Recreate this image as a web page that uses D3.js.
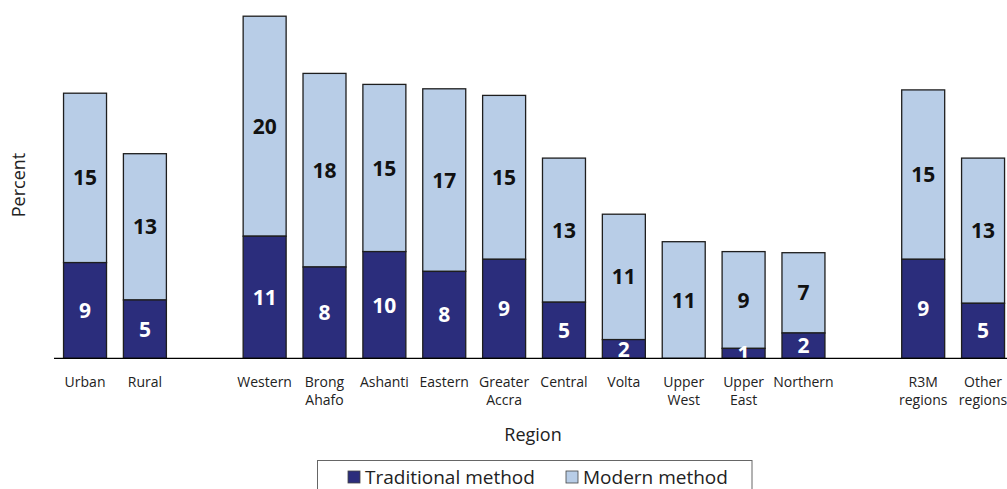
<!DOCTYPE html>
<html>
<head>
<meta charset="utf-8">
<script src="https://cdn.jsdelivr.net/npm/d3@7"></script>
<style>
  html, body { margin: 0; padding: 0; background: #fff; }
  svg { display: block; }
  text { font-family: "Open Sans", "Noto Sans", "DejaVu Sans", sans-serif; }
</style>
</head>
<body>
<svg id="chart" width="1007" height="489"></svg>
<script>
// ---- data ----
const categories = ["Urban", "Rural", "Western", "Brong\nAhafo", "Ashanti", "Eastern", "Greater\nAccra",
  "Central", "Volta", "Upper\nWest", "Upper\nEast", "Northern", "R3M\nregions", "Other\nregions"];
const traditional = [8.7, 5.3, 11.1, 8.3, 9.7, 7.9, 9.0, 5.1, 1.7, 0.0, 0.9, 2.3, 9.0, 5.0];
const modern      = [15.4, 13.3, 20.0, 17.6, 15.2, 16.6, 14.9, 13.1, 11.4, 10.6, 8.8, 7.3, 15.4, 13.2];
const traditionalLabels = ["9", "5", "11", "8", "10", "8", "9", "5", "2", "", "1", "2", "9", "5"];
const modernLabels      = ["15", "13", "20", "18", "15", "17", "15", "13", "11", "11", "9", "7", "15", "13"];
const gapsAfter = [1, 11]; // empty slot after these category indices
const seriesNames = ["Traditional method", "Modern method"];
const colors = ["#2b2d7c", "#b8cde7"];

// ---- layout ----
const svg = d3.select("#chart");
const baseY = 358.3;

const slots = [];
categories.forEach((c, i) => { slots.push(c); if (gapsAfter.includes(i)) slots.push("__gap" + i); });

const x = d3.scaleBand().domain(slots).range([55.1, 1013]).paddingInner(0.282).paddingOuter(0.141);
const y = d3.scaleLinear().domain([0, 32]).range([baseY, baseY - 352]);

const rows = categories.map((c, i) => ({ cat: c, trad: traditional[i], mod: modern[i],
  tl: traditionalLabels[i], ml: modernLabels[i] }));

const g = svg.append("g");

// modern (top) segments
g.selectAll("rect.mod").data(rows).join("rect")
  .attr("class", "mod")
  .attr("x", d => x(d.cat))
  .attr("width", x.bandwidth())
  .attr("y", d => y(d.trad + d.mod))
  .attr("height", d => y(d.trad) - y(d.trad + d.mod))
  .attr("fill", colors[1])
  .attr("stroke", "#1e1e1e").attr("stroke-width", 1.3);

// traditional (bottom) segments
g.selectAll("rect.trad").data(rows.filter(d => d.trad > 0)).join("rect")
  .attr("class", "trad")
  .attr("x", d => x(d.cat))
  .attr("width", x.bandwidth())
  .attr("y", d => y(d.trad))
  .attr("height", d => y(0) - y(d.trad))
  .attr("fill", colors[0])
  .attr("stroke", "#1e1e1e").attr("stroke-width", 1.3);

// value labels
g.selectAll("text.ml").data(rows).join("text")
  .attr("class", "ml")
  .attr("x", d => x(d.cat) + x.bandwidth() / 2)
  .attr("y", d => (y(d.trad) + y(d.trad + d.mod)) / 2)
  .attr("dy", "0.36em")
  .attr("text-anchor", "middle")
  .attr("font-size", 21).attr("font-weight", 700).attr("fill", "#111")
  .text(d => d.ml);

g.selectAll("text.tl").data(rows.filter(d => d.tl !== "")).join("text")
  .attr("class", "tl")
  .attr("x", d => x(d.cat) + x.bandwidth() / 2)
  .attr("y", d => (y(0) + y(d.trad)) / 2)
  .attr("dy", "0.36em")
  .attr("text-anchor", "middle")
  .attr("font-size", 21).attr("font-weight", 700).attr("fill", "#fff")
  .text(d => d.tl);

// x axis
const xAxis = d3.axisBottom(x).tickSize(0).tickFormat(d => d.startsWith("__gap") ? "" : d);
const ax = svg.append("g").attr("transform", `translate(0,${baseY})`).call(xAxis);
ax.select(".domain").remove();
svg.append("line").attr("x1", 54).attr("x2", 1007).attr("y1", baseY).attr("y2", baseY)
  .attr("stroke", "#000").attr("stroke-width", 1.3);
ax.selectAll(".tick text").each(function(d) {
  const t = d3.select(this);
  t.text(null);
  if (d.startsWith("__gap")) return;
  d.split("\n").forEach((line, k) => {
    t.append("tspan").attr("x", 0).attr("y", 23.5 + k * 18).attr("dy", "0.35em").text(line);
  });
}).attr("font-size", 14).attr("fill", "#222").attr("font-family", "\"Open Sans\", sans-serif");

// axis titles
svg.append("text").attr("x", 533).attr("y", 435).attr("dy", "0.35em")
  .attr("text-anchor", "middle").attr("font-size", 18).attr("fill", "#222").text("Region");
svg.append("text").attr("transform", "translate(19,185) rotate(-90)").attr("dy", "0.35em")
  .attr("text-anchor", "middle").attr("font-size", 18).attr("fill", "#222").text("Percent");

// legend
const leg = svg.append("g");
leg.append("rect").attr("x", 317.5).attr("y", 460.5).attr("width", 434.5).attr("height", 40)
  .attr("fill", "#fff").attr("stroke", "#666").attr("stroke-width", 1);
const legX = [348, 566];
seriesNames.forEach((name, i) => {
  leg.append("rect").attr("x", legX[i]).attr("y", 471).attr("width", 12).attr("height", 12)
    .attr("fill", colors[i]).attr("stroke", "#444").attr("stroke-width", 0.8);
  leg.append("text").attr("x", legX[i] + 17).attr("y", 477).attr("dy", "0.35em")
    .attr("font-size", 19).attr("fill", "#222").text(name);
});
</script>
</body>
</html>
